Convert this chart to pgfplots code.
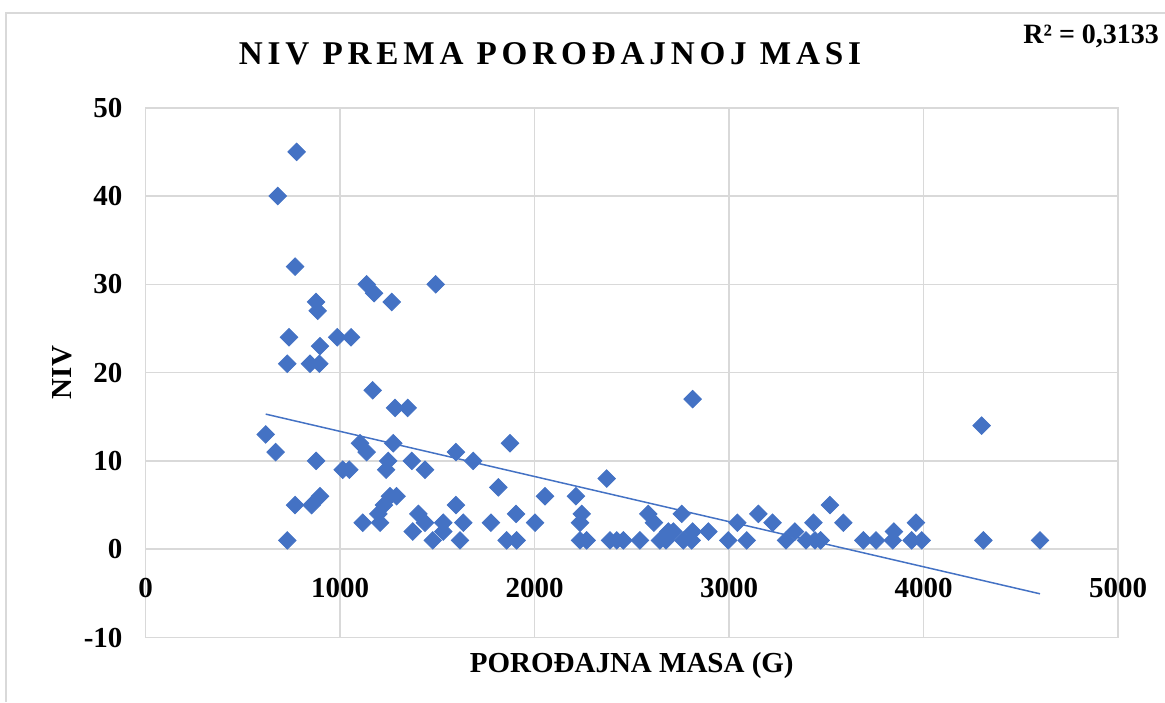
\documentclass[border=0pt]{standalone}
\usepackage{fontspec}
\setmainfont{Liberation Serif}
\newfontfamily\titlefont[LetterSpace=14.5]{Liberation Serif}
\usepackage{pgfplots}
\pgfplotsset{compat=1.18}
\definecolor{gridc}{HTML}{D9D9D9}
\definecolor{xblue}{HTML}{4472C4}
\pgfplotstableread{
x y
777 45
680 40
769 32
1137 30
1492 30
1175 29
877 28
1266 28
885 27
738 24
986 24
1057 24
897 23
729 21
846 21
894 21
1168 18
2813 17
1283 16
1348 16
4299 14
618 13
1103 12
1274 12
1874 12
669 11
1137 11
1596 11
877 10
1248 10
1369 10
1685 10
1014 9
1048 9
1237 9
1437 9
2371 8
1814 7
897 6
1257 6
1291 6
2054 6
2213 6
769 5
854 5
1226 5
1596 5
3519 5
1197 4
1403 4
1905 4
2243 4
2585 4
2757 4
3151 4
1117 3
1206 3
1437 3
1531 3
1634 3
1776 3
2003 3
2234 3
2614 3
3043 3
3224 3
3434 3
3588 3
3961 3
1374 2
1531 2
2688 2
2714 2
2813 2
2894 2
3339 2
3848 2
729 1
1477 1
1617 1
1857 1
1908 1
2234 1
2268 1
2388 1
2423 1
2457 1
2542 1
2645 1
2676 1
2765 1
2808 1
2996 1
3091 1
3293 1
3396 1
3442 1
3471 1
3691 1
3756 1
3842 1
3939 1
3991 1
4308 1
4599 1
}\niv
\begin{document}
\begin{tikzpicture}
\useasboundingbox (0,0) rectangle (582.5pt,-351pt);
\draw[gridc, line width=0.8pt] (3pt,-351pt) -- (3pt,-6.5pt) -- (582.5pt,-6.5pt);
\begin{axis}[
  at={(72.75pt,-318.75pt)}, anchor=south west,
  scale only axis, width=486.25pt, height=264.9pt,
  xmin=0, xmax=5000, ymin=-10, ymax=50,
  xtick={0,1000,...,5000}, ytick={-10,0,...,50},
  grid=major, major grid style={gridc, line width=0.8pt},
  axis line style={gridc, line width=0.8pt},
  major tick length=0pt,
  tick label style={font=\bfseries\fontsize{14.5pt}{16pt}\selectfont},
  /pgf/number format/assume math mode=true,
  /pgf/number format/1000 sep={},
  xticklabel style={anchor=base, yshift=20.25pt},
  yticklabel style={anchor=east, xshift=-8pt},
  xlabel={POROĐAJNA MASA (G)},
  ylabel={NIV},
  every axis x label/.style={at={(axis description cs:0.5,-0.0651)}, anchor=base, font=\bfseries\fontsize{14.5pt}{17pt}\selectfont},
  every axis y label/.style={at={(axis description cs:-0.0859,0.5)}, anchor=center, rotate=90, font=\bfseries\fontsize{14.5pt}{17pt}\selectfont},
]
\addplot[only marks, mark=square*, mark size=3.1pt, mark options={rotate=45, fill=xblue, draw=xblue}] table[x=x, y=y] {\niv};
\addplot[xblue, line width=0.75pt, no marks] coordinates {(618,15.3) (4599,-5.05)};
\end{axis}
\node[anchor=base, font=\titlefont\bfseries\fontsize{16.6pt}{19pt}\selectfont] at (275pt,-32pt) {NIV PREMA POROĐAJNOJ MASI};
\node[anchor=base west, inner sep=0pt, font=\bfseries\fontsize{14pt}{16pt}\selectfont] at (511.5pt,-21.5pt) {R² = 0,3133};
\end{tikzpicture}
\end{document}
